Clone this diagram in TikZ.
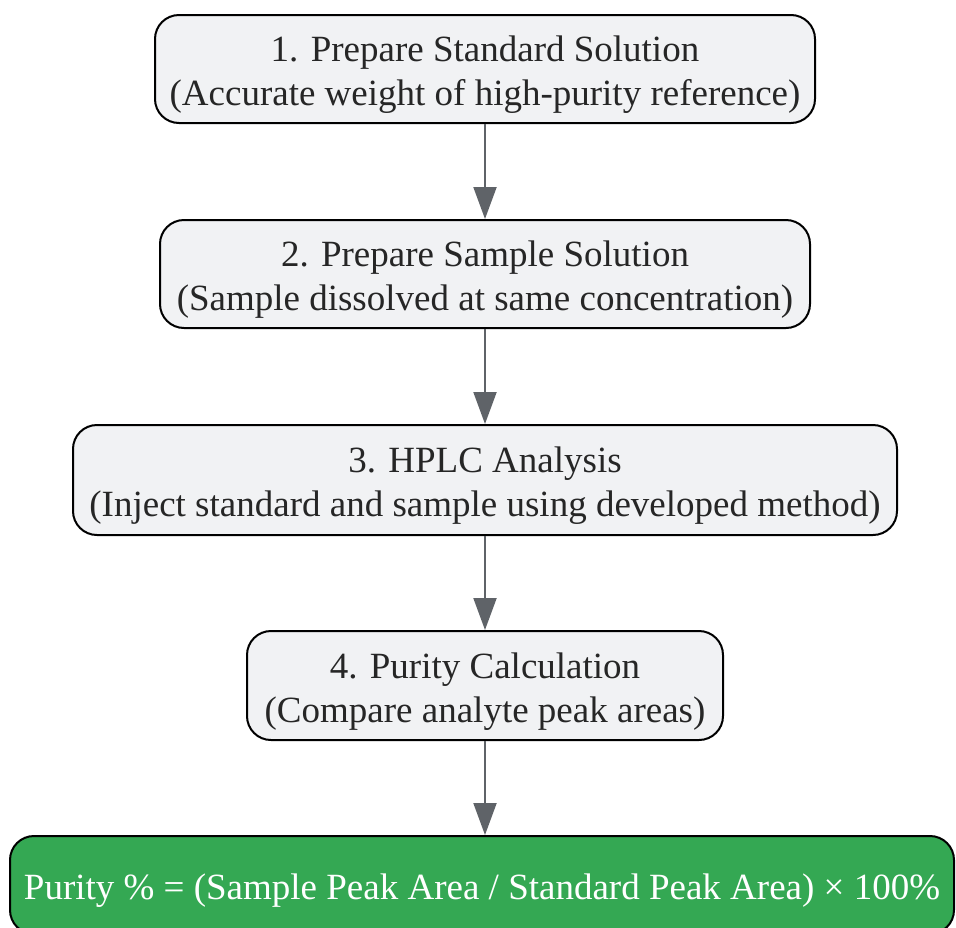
\documentclass[tikz,border=0pt]{standalone}
\usepackage{fontspec}
\setmainfont{Liberation Serif}
\usepackage{tikz}
\usetikzlibrary{arrows.meta}
\usetikzlibrary{positioning}

\definecolor{boxfill}{HTML}{F1F2F4}
\definecolor{arrowgray}{HTML}{5F6368}
\definecolor{resultgreen}{HTML}{34A853}

% struts so the text sits as in the reference
\newcommand{\hstrut}{\rule{0pt}{37pt}}
\newcommand{\dstrut}{\rule[-8pt]{0pt}{8pt}}

\tikzset{
	stepbox/.style={draw=black, line width=2pt, fill=boxfill, rounded corners=24pt,
		align=center, inner sep=0pt, text=black!85,
		font=\fontsize{37}{44}\selectfont},
	resultbox/.style={stepbox, fill=resultgreen, text=white},
	flowarrow/.style={draw=arrowgray, line width=2pt,
		-{Triangle[length=32pt, width=23pt]}},
}

\begin{document}
\begin{tikzpicture}[x=1pt, y=-1pt]

	% Proper size --- Bounding box
	\useasboundingbox (0,0) rectangle (956,927);

	% Steps
	\node[stepbox, minimum width=660pt, minimum height=108pt] (std) at (485,69)
		{\hstrut 1. Prepare Standard Solution\\(Accurate weight of high-purity reference)\dstrut};
	\node[stepbox, minimum width=650pt, minimum height=108pt] (smp) at (485,274)
		{\hstrut 2. Prepare Sample Solution\\(Sample dissolved at same concentration)\dstrut};
	\node[stepbox, minimum width=824pt, minimum height=110pt] (hplc) at (485,480)
		{\hstrut 3. HPLC Analysis\\(Inject standard and sample using developed method)\dstrut};
	\node[stepbox, minimum width=476pt, minimum height=109pt] (calc) at (485,685.5)
		{\hstrut 4. Purity Calculation\\(Compare analyte peak areas)\dstrut};

	% Result (cut by the bounding box at the bottom)
	\node[resultbox, minimum width=944pt, minimum height=98pt] (result) at (482,885)
		{\hstrut Purity \% = (Sample Peak Area / Standard Peak Area) × 100\%\dstrut};

	% Connectors
	\draw[flowarrow] (std) -- (smp);
	\draw[flowarrow] (smp) -- (hplc);
	\draw[flowarrow] (hplc) -- (calc);
	\draw[flowarrow] (calc.south) -- (calc.south |- result.north);

\end{tikzpicture}
\end{document}
